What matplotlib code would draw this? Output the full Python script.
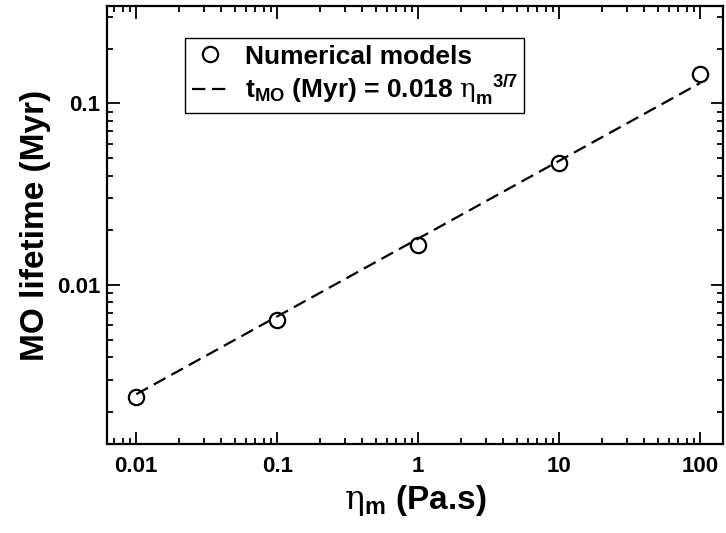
import matplotlib
matplotlib.use("Agg")
import matplotlib.pyplot as plt
from matplotlib.ticker import FuncFormatter, LogLocator, NullFormatter

plt.rcParams['font.family'] = ['Liberation Sans', 'DejaVu Sans']
plt.rcParams['font.weight'] = 'bold'
plt.rcParams['mathtext.fontset'] = 'custom'
plt.rcParams['mathtext.rm'] = 'Liberation Sans:bold'
plt.rcParams['mathtext.bf'] = 'Liberation Sans:bold'
plt.rcParams['mathtext.it'] = 'Liberation Sans:bold'
plt.rcParams['mathtext.sf'] = 'DejaVu Serif:normal'
plt.rcParams['mathtext.default'] = 'rm'

# numerical models
eta = [0.01, 0.1, 1, 10, 100]
lifetime = [0.0024, 0.0064, 0.0165, 0.047, 0.145]

# fitted power law, end points
fit_eta = [0.01, 100]
fit_t = [0.0025, 0.1295]

xticks = [0.01, 0.1, 1, 10, 100]
yticks = [0.01, 0.1]

fig = plt.figure(figsize=(7.26, 5.33), dpi=100)
ax = fig.add_axes([0.1474, 0.167, 0.8485, 0.8215])

ax.plot(fit_eta, fit_t, color='black', lw=1.6, dashes=(6, 3),
        label=r'$t_{MO}$ (Myr) = 0.018 $\mathsf{\eta}_{m}^{\ \ \ 3/7}$')
ax.plot(eta, lifetime, 'o', mfc='none', mec='black', mew=1.6, ms=11,
        label='Numerical models')

ax.set_xscale('log')
ax.set_yscale('log')
ax.set_xlim(0.0062, 145)
ax.set_ylim(0.00133, 0.343)

fmt = FuncFormatter(lambda v, p: '%g' % v)
ax.set_xticks(xticks)
ax.set_yticks(yticks)
ax.xaxis.set_major_formatter(fmt)
ax.yaxis.set_major_formatter(fmt)
ax.xaxis.set_minor_locator(LogLocator(base=10, subs=range(2, 10)))
ax.yaxis.set_minor_locator(LogLocator(base=10, subs=range(2, 10)))
ax.xaxis.set_minor_formatter(NullFormatter())
ax.yaxis.set_minor_formatter(NullFormatter())

ax.tick_params(which='both', direction='in', top=True, right=True, width=1.3)
ax.tick_params(which='major', length=9, labelsize=16)
ax.tick_params(axis='x', which='major', pad=9)
ax.tick_params(axis='y', which='major', pad=5)
ax.tick_params(which='minor', length=4.5)
for s in ax.spines.values():
    s.set_linewidth(1.6)

ax.set_xlabel(r'$\mathsf{\eta}_m$ (Pa.s)', fontsize=24, fontweight='bold', labelpad=4)
ax.set_ylabel('MO lifetime (Myr)', fontsize=24, fontweight='bold', labelpad=4)

handles, labels = ax.get_legend_handles_labels()
leg = ax.legend(handles[::-1], labels[::-1], loc='upper left',
                bbox_to_anchor=(0.127, 0.927), fontsize=19, frameon=True,
                fancybox=False, framealpha=1, edgecolor='black',
                handlelength=1.4, handletextpad=0.6, borderpad=0.25,
                labelspacing=0.15, borderaxespad=0)
leg.get_frame().set_linewidth(1.0)

fig.savefig('out.png', dpi=100)
